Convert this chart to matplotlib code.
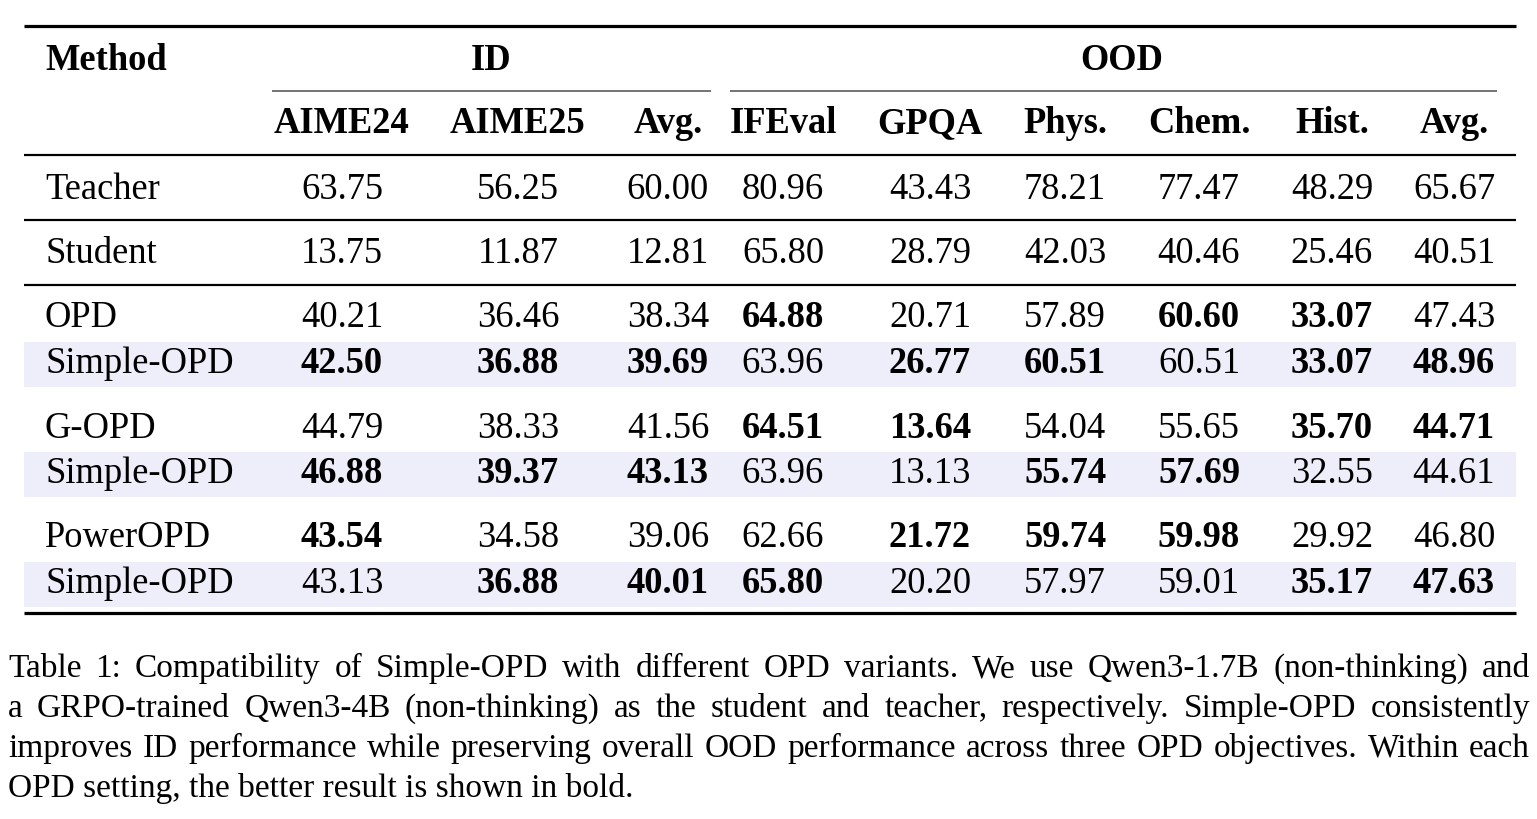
import matplotlib
matplotlib.use("Agg")
import matplotlib.pyplot as plt
from matplotlib.patches import Rectangle

# ---------------- data ----------------
group_headers = ["ID", "OOD"]
columns = ["AIME24", "AIME25", "Avg.", "IFEval", "GPQA", "Phys.", "Chem.", "Hist.", "Avg."]
methods = ["Teacher", "Student", "OPD", "Simple-OPD", "G-OPD", "Simple-OPD", "PowerOPD", "Simple-OPD"]
teacher = [63.75, 56.25, 60.00, 80.96, 43.43, 78.21, 77.47, 48.29, 65.67]
student = [13.75, 11.87, 12.81, 65.80, 28.79, 42.03, 40.46, 25.46, 40.51]
opd = [40.21, 36.46, 38.34, 64.88, 20.71, 57.89, 60.60, 33.07, 47.43]
simple_opd_1 = [42.50, 36.88, 39.69, 63.96, 26.77, 60.51, 60.51, 33.07, 48.96]
g_opd = [44.79, 38.33, 41.56, 64.51, 13.64, 54.04, 55.65, 35.70, 44.71]
simple_opd_2 = [46.88, 39.37, 43.13, 63.96, 13.13, 55.74, 57.69, 32.55, 44.61]
power_opd = [43.54, 34.58, 39.06, 62.66, 21.72, 59.74, 59.98, 29.92, 46.80]
simple_opd_3 = [43.13, 36.88, 40.01, 65.80, 20.20, 57.97, 59.01, 35.17, 47.63]
caption_lines = [
    "Table 1: Compatibility of Simple-OPD with different OPD variants.  We use Qwen3-1.7B (non-thinking) and",
    "a GRPO-trained Qwen3-4B (non-thinking) as the student and teacher, respectively.  Simple-OPD consistently",
    "improves ID performance while preserving overall OOD performance across three OPD objectives. Within each",
    "OPD setting, the better result is shown in bold.",
]

rows = [teacher, student, opd, simple_opd_1, g_opd, simple_opd_2, power_opd, simple_opd_3]
# bold: better within each OPD pair (ties both bold)
bold = [[False] * 9, [False] * 9]
for a, b in [(opd, simple_opd_1), (g_opd, simple_opd_2), (power_opd, simple_opd_3)]:
    bold.append([x >= y for x, y in zip(a, b)])
    bold.append([y >= x for x, y in zip(a, b)])

# ---------------- layout ----------------
W, H = 1537, 819
fig = plt.figure(figsize=(W / 100, H / 100), dpi=100)
ax = fig.add_axes([0, 0, 1, 1])
ax.set_xlim(0, W)
ax.set_ylim(H, 0)
ax.axis("off")

FONT = "Liberation Serif"
FS = 26.3
CFS = 24
px = 72 / 100  # points per pixel

x_left, x_right = 24, 1516
col_x = [342, 518, 668, 783, 930, 1065, 1199, 1332, 1454]
method_x = 45
row_base = [199, 263, 327, 373, 438, 483, 547, 593]
shade_rows = [(342, 387), (452, 497), (562, 607)]
shade_color = "#EEEEFA"

for y0, y1 in shade_rows:
    ax.add_patch(Rectangle((x_left, y0), x_right - x_left, y1 - y0,
                           facecolor=shade_color, edgecolor="none", zorder=0))

def hline(y, x0, x1, lw_px, color="black"):
    ax.plot([x0, x1], [y, y], color=color, lw=lw_px * px, solid_capstyle="butt", zorder=2)

hline(26, x_left, x_right, 3.2)
hline(91, 272, 711, 1.6, "#555555")
hline(91, 730, 1497, 1.6, "#555555")
hline(155, x_left, x_right, 2.2)
hline(220, x_left, x_right, 2.2)
hline(285, x_left, x_right, 2.2)
hline(613, x_left, x_right, 3.2)

# headers
ax.text(method_x, 70, "Method", fontfamily=FONT, fontsize=FS, fontweight="bold",
        ha="left", va="baseline")
ax.text(491, 70, group_headers[0], fontfamily=FONT, fontsize=FS, fontweight="bold",
        ha="center", va="baseline")
ax.text(1122, 70, group_headers[1], fontfamily=FONT, fontsize=FS, fontweight="bold",
        ha="center", va="baseline")
for cx, c in zip(col_x, columns):
    ax.text(cx, 133, c, fontfamily=FONT, fontsize=FS, fontweight="bold",
            ha="center", va="baseline")

# body
for r, (m, vals, yb) in enumerate(zip(methods, rows, row_base)):
    ax.text(method_x, yb, m, fontfamily=FONT, fontsize=FS, ha="left", va="baseline")
    for c, (cx, v) in enumerate(zip(col_x, vals)):
        ax.text(cx, yb, f"{v:.2f}", fontfamily=FONT, fontsize=FS,
                fontweight="bold" if bold[r][c] else "normal",
                ha="center", va="baseline")

# caption (justified)
renderer = fig.canvas.get_renderer()
cap_x0, cap_x1 = 8, 1530
cap_base = [677, 717, 757, 797]

def word_width(w):
    t = ax.text(0, 0, w, fontfamily=FONT, fontsize=CFS)
    bb = t.get_window_extent(renderer=renderer)
    t.remove()
    return bb.width

for i, (line, yb) in enumerate(zip(caption_lines, cap_base)):
    if i == len(caption_lines) - 1:
        ax.text(cap_x0, yb, line, fontfamily=FONT, fontsize=CFS, ha="left", va="baseline")
        continue
    words = line.split()
    widths = [word_width(w) for w in words]
    gap = (cap_x1 - cap_x0 - sum(widths)) / (len(words) - 1)
    x = cap_x0
    for w, wd in zip(words, widths):
        ax.text(x, yb, w, fontfamily=FONT, fontsize=CFS, ha="left", va="baseline")
        x += wd + gap

fig.savefig("out.png", dpi=100)
